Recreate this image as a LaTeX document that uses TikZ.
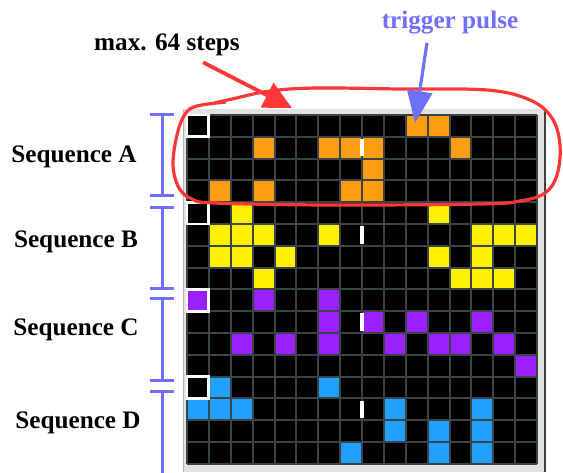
\documentclass[tikz,border=0pt]{standalone}
\usepackage{fontspec}
\setmainfont{Liberation Serif}
\usetikzlibrary{arrows.meta}

\definecolor{seqorange}{RGB}{255,157,15}
\definecolor{seqyellow}{RGB}{255,240,0}
\definecolor{seqpurple}{RGB}{155,32,255}
\definecolor{seqblue}{RGB}{32,160,255}
\definecolor{gridgrey}{RGB}{58,68,70}
\definecolor{framegrey}{RGB}{226,226,226}
\definecolor{markblue}{RGB}{112,112,255}
\definecolor{markred}{RGB}{255,55,55}

\tikzset{
  seqlabel/.style={inner sep=0pt,font=\fontsize{12.6pt}{15pt}\selectfont\bfseries},
  seqbar/.style={draw=markblue,line width=1.5pt},
  gridline/.style={draw=gridgrey,line width=1pt},
  cursor/.style={draw=white,line width=1.4pt},
  playhead/.style={draw=white,line width=1.7pt},
  redline/.style={draw=markred,line width=1.6pt},
}

\begin{document}
\begin{tikzpicture}[x=0.5pt,y=-0.5pt,thick]
\useasboundingbox (0,0) rectangle (563,472);

\fill[framegrey] (183,109) rectangle (546,472);
\draw[black!30,line width=0.5pt] (183.5,109) -- (183.5,472);
\draw[black!75,line width=1pt] (545,109) -- (545,472);

\begin{scope}[shift={(187,115)},x=10.9375pt,y=-10.9pt]
\fill[black] (0,0) rectangle (16,16);
\foreach \c/\r in {10/0,11/0,3/1,6/1,7/1,8/1,12/1,8/2,1/3,3/3,7/3,8/3}
  \fill[seqorange] (\c,\r) rectangle +(1,1);
\foreach \c/\r in {2/4,11/4,1/5,2/5,3/5,6/5,13/5,14/5,15/5,1/6,2/6,4/6,11/6,13/6,3/7,12/7,13/7,14/7}
  \fill[seqyellow] (\c,\r) rectangle +(1,1);
\foreach \c/\r in {0/8,3/8,6/8,6/9,8/9,10/9,13/9,2/10,4/10,6/10,9/10,11/10,12/10,14/10,15/11}
  \fill[seqpurple] (\c,\r) rectangle +(1,1);
\foreach \c/\r in {1/12,6/12,0/13,1/13,2/13,9/13,13/13,9/14,11/14,13/14,7/15,11/15,13/15}
  \fill[seqblue] (\c,\r) rectangle +(1,1);
\foreach \i in {0,...,16} {
  \draw[gridline] (\i,0) -- (\i,16);
  \draw[gridline] (0,\i) -- (16,\i);
}
\foreach \r in {0,4,8,12}
  \draw[cursor] (0,\r) rectangle +(1,1);
\foreach \r in {1,5,9,13}
  \draw[playhead] (8,\r+0.1) -- (8,\r+0.9);
\end{scope}

\draw[seqbar,arrows={Bar[width=12pt]-Bar[width=12pt]}] (162,113) -- (162,197);
\draw[seqbar,arrows={Bar[width=12pt]-Bar[width=12pt]}] (162,206) -- (162,290);
\draw[seqbar,arrows={Bar[width=12pt]-Bar[width=12pt]}] (162,297) -- (162,382);
\draw[seqbar,arrows={Bar[width=12pt]-}] (162,390) -- (162,480);

\node[seqlabel] at (74,157) (seqa) {Sequence A};
\node[seqlabel] at (76,242) (seqb) {Sequence B};
\node[seqlabel] at (76,330) (seqc) {Sequence C};
\node[seqlabel] at (78,423) (seqd) {Sequence D};

\draw[redline] plot[smooth,tension=0.6] coordinates {(226,102) (197,106) (185,114) (177,135) (173,165) (179,188) (192,199) (215,203) (330,205) (480,204) (520,201) (545,193) (557,175) (560,145) (552,118) (530,100) (487,90) (400,89) (317,88) (270,91) (232,99) (210,104)};

\node[seqlabel] at (167,45) (steps) {max. 64 steps};
\node[seqlabel,text=markblue] at (450,23) (pulse) {trigger pulse};

\coordinate (stepstip) at (292,108);
\coordinate (pulsetip) at (415,123);

\draw[draw=markred,line width=1.9pt,arrows={-Triangle[length=14pt,width=13.5pt]},fill=markred] ([xshift=18pt,yshift=-2.75pt]steps.south) -- (stepstip);
\draw[draw=markblue,line width=1.6pt,arrows={-Triangle[length=16pt,width=12.5pt]},fill=markblue] ([xshift=-11.5pt,yshift=-3.75pt]pulse.south) -- (pulsetip);

\end{tikzpicture}
\end{document}
